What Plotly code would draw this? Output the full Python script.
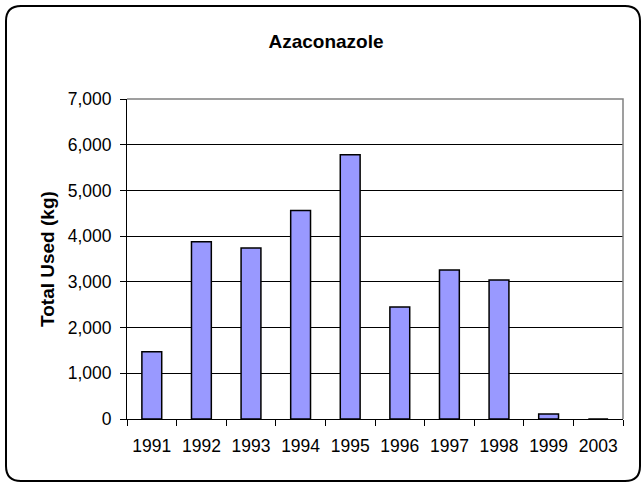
import plotly.graph_objects as go

years = ["1991", "1992", "1993", "1994", "1995", "1996", "1997", "1998", "1999", "2003"]
total_used_kg = [1470, 3880, 3740, 4560, 5780, 2450, 3260, 3040, 110, 0]
chart_title = "Azaconazole"
y_title = "Total Used (kg)"

W, H = 642, 485
L, R, T, B = 127, 623, 99, 419  # plot area in pixels
pw, ph = R - L, B - T

def px(x):
    return (x - L) / pw

def py(y):
    return (B - y) / ph

FONT = "Liberation Sans, Arial, sans-serif"

fig = go.Figure(
    go.Bar(
        x=years,
        y=total_used_kg,
        width=0.4,
        marker=dict(color="#9999FF", line=dict(color="black", width=1.5)),
    )
)

# outer rounded border
x0, y0, x1, y1, r = 6, 6, 640, 481, 15
path = (
    f"M {px(x0 + r)},{py(y0)} L {px(x1 - r)},{py(y0)} "
    f"Q {px(x1)},{py(y0)} {px(x1)},{py(y0 + r)} "
    f"L {px(x1)},{py(y1 - r)} Q {px(x1)},{py(y1)} {px(x1 - r)},{py(y1)} "
    f"L {px(x0 + r)},{py(y1)} Q {px(x0)},{py(y1)} {px(x0)},{py(y1 - r)} "
    f"L {px(x0)},{py(y0 + r)} Q {px(x0)},{py(y0)} {px(x0 + r)},{py(y0)} Z"
)

fig.update_layout(
    width=W,
    height=H,
    margin=dict(l=L, r=W - R, t=T, b=H - B),
    paper_bgcolor="white",
    plot_bgcolor="white",
    showlegend=False,
    bargap=0.6,
    font=dict(family=FONT, size=17, color="black"),
    title=dict(
        text=f"<b>{chart_title}</b>",
        x=326 / W,
        xanchor="center",
        y=1 - 41 / H,
        yanchor="middle",
        font=dict(family=FONT, size=19, color="black"),
    ),
    xaxis=dict(
        type="category",
        tickson="boundaries",
        ticks="outside",
        ticklen=6,
        tickcolor="black",
        ticklabelstandoff=11,
        showline=True,
        linecolor="black",
        linewidth=1,
        showgrid=False,
        tickfont=dict(family=FONT, size=17.5, color="black"),
    ),
    yaxis=dict(
        range=[0, 7000],
        dtick=1000,
        tickformat=",",
        ticks="outside",
        ticklen=6,
        tickcolor="black",
        ticklabelstandoff=5,
        showline=True,
        linecolor="black",
        linewidth=1,
        showgrid=True,
        gridcolor="black",
        gridwidth=1,
        zeroline=False,
        tickfont=dict(family=FONT, size=17.5, color="black"),
    ),
    shapes=[
        dict(
            type="path",
            xref="paper",
            yref="paper",
            path="M 0,1 L 1,1 L 1,0",
            line=dict(color="#808080", width=1.5),
            layer="above",
        ),
        dict(
            type="path",
            xref="paper",
            yref="paper",
            path=path,
            line=dict(color="black", width=2),
            layer="above",
        ),
    ],
    annotations=[
        dict(
            text=f"<b>{y_title}</b>",
            xref="paper",
            yref="paper",
            x=px(47),
            y=0.5,
            xanchor="center",
            yanchor="middle",
            textangle=-90,
            showarrow=False,
            font=dict(family=FONT, size=19, color="black"),
        )
    ],
)

fig.write_html(
    "out.html",
    config={"displayModeBar": False},
    post_script="document.body.style.margin='0';document.body.style.overflow='hidden';",
)
